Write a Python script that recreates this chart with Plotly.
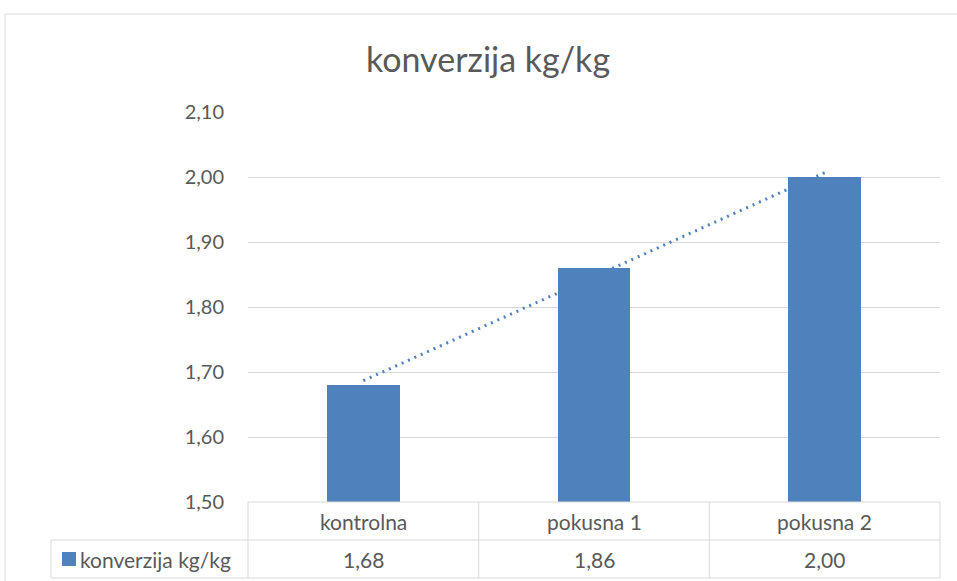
import numpy as np
import plotly.graph_objects as go

categories = ["kontrolna", "pokusna 1", "pokusna 2"]
values = [1.68, 1.86, 2.00]
series_name = "konverzija kg/kg"
title_text = "konverzija kg/kg"
y_ticks = [1.50, 1.60, 1.70, 1.80, 1.90, 2.00, 2.10]

W, H = 957, 581
PL, PR, PT, PB = 248, 940, 112, 502  # plot area pixels
BLUE = "#4f81bd"
GRID = "#d9d9d9"
TXT = "#595959"
FONT = "Lato"


def px(x):
    return (x - PL) / (PR - PL)


def py(y):
    return (PB - y) / (PB - PT)


xi = np.arange(len(categories))
slope, intercept = np.polyfit(xi, values, 1)
trend = slope * xi + intercept

fig = go.Figure()
fig.add_trace(go.Bar(x=xi, y=values, marker=dict(color=BLUE, line=dict(width=0)),
                     width=0.316, name=series_name, showlegend=False))
fig.add_trace(go.Scatter(x=xi, y=trend, mode="lines",
                         line=dict(color=BLUE, width=3, dash="2px,5px"),
                         showlegend=False, hoverinfo="skip"))

shapes = []
ln = dict(color=GRID, width=1)
# chart border
shapes.append(dict(type="line", xref="paper", yref="paper", x0=px(5), x1=px(960), y0=py(14), y1=py(14), line=ln))
shapes.append(dict(type="line", xref="paper", yref="paper", x0=px(5), x1=px(5), y0=py(14), y1=py(585), line=ln))
# data table
for yy, x0 in [(PB, PL), (540, 51), (578, 51)]:
    shapes.append(dict(type="line", xref="paper", yref="paper", x0=px(x0), x1=px(PR), y0=py(yy), y1=py(yy), line=ln))
for k in range(len(categories) + 1):
    xx = PL + k * (PR - PL) / len(categories)
    shapes.append(dict(type="line", xref="paper", yref="paper", x0=px(xx), x1=px(xx), y0=py(PB), y1=py(578), line=ln))
shapes.append(dict(type="line", xref="paper", yref="paper", x0=px(51), x1=px(51), y0=py(540), y1=py(578), line=ln))
# legend key
shapes.append(dict(type="rect", xref="paper", yref="paper", x0=px(62), x1=px(76), y0=py(566), y1=py(552),
                   fillcolor=BLUE, line=dict(width=0)))

TS = 21
annotations = []
for i, c in enumerate(categories):
    annotations.append(dict(x=i, y=py(521), xref="x", yref="paper", text=c, showarrow=False,
                            font=dict(size=TS, color=TXT, family=FONT), xanchor="center", yanchor="middle"))
    annotations.append(dict(x=i, y=py(559), xref="x", yref="paper", text=f"{values[i]:.2f}".replace(".", ","),
                            showarrow=False, font=dict(size=TS, color=TXT, family=FONT),
                            xanchor="center", yanchor="middle"))
annotations.append(dict(x=px(78), y=py(559), xref="paper", yref="paper", text=series_name, showarrow=False,
                        font=dict(size=TS, color=TXT, family=FONT), xanchor="left", yanchor="middle"))

fig.update_layout(
    width=W, height=H,
    margin=dict(l=PL, r=W - PR, t=PT, b=H - PB, pad=0),
    paper_bgcolor="white", plot_bgcolor="white",
    separators=", ",
    title=dict(text=title_text, x=488 / W, xanchor="center", y=1 - 60 / H, yanchor="middle",
               font=dict(size=34, color=TXT, family=FONT)),
    xaxis=dict(range=[-0.5, len(categories) - 0.5], showticklabels=False, showgrid=False,
               zeroline=False, showline=False, ticks=""),
    yaxis=dict(range=[1.5, 2.1], tickvals=y_ticks, tickformat=".2f", showgrid=True, gridcolor=GRID,
               gridwidth=1, zeroline=False, showline=False, ticks="", ticklabelstandoff=23,
               tickfont=dict(size=20, color=TXT, family=FONT)),
    shapes=shapes, annotations=annotations, bargap=0,
)

fig.write_html("out.html", config={"displayModeBar": False},
               post_script="document.body.style.margin='0';document.body.style.overflow='hidden';")
